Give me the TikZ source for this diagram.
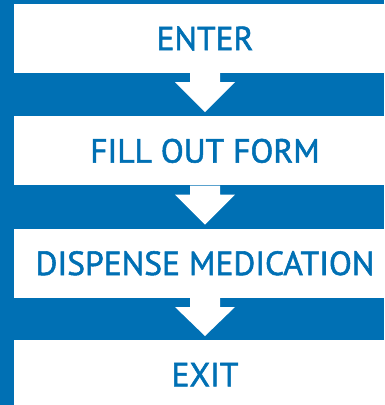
\documentclass[tikz,border=0pt]{standalone}
\usepackage{fontspec}
\setmainfont{PT Sans}
\newfontfamily\stepfont{PT Sans}[FakeBold=1.6]
\usetikzlibrary{positioning,calc}
\definecolor{flowblue}{RGB}{0,112,180}
\newcommand\steparrow[2]{%
\fill[white] ($(#1.south)+(-15pt,0)$) -- ++(0,-9pt) -- ++(-15pt,0) -- ($(#2.north)+(0,4pt)$)
  -- ($(#1.south)+(30pt,-9pt)$) -- ++(-15pt,0) -- ++(0,9pt) -- cycle;
}

\begin{document}
\begin{tikzpicture}[x=1pt,y=1pt,
  stepbox/.style={fill=white, text=flowblue, minimum width=382pt, minimum height=69pt,
    inner sep=0pt, font=\stepfont\fontsize{33.5}{38}\selectfont}]
	%% background and frame
	\fill[flowblue] (0,0) rectangle (384,-405);
	\useasboundingbox (0,0) rectangle (384,-405);
	\clip (0,0) rectangle (384,-405);

	\node[stepbox] (enter) at (205,-38.5) {ENTER};
	\node[stepbox, below=43pt of enter] (form) {FILL OUT FORM};
	\node[stepbox, below=43pt of form] (dispense) {DISPENSE MEDICATION};
	\node[stepbox, below=42pt of dispense] (exit) {EXIT};

	\steparrow{enter}{form}
	\steparrow{form}{dispense}
	\steparrow{dispense}{exit}
\end{tikzpicture}
\end{document}
